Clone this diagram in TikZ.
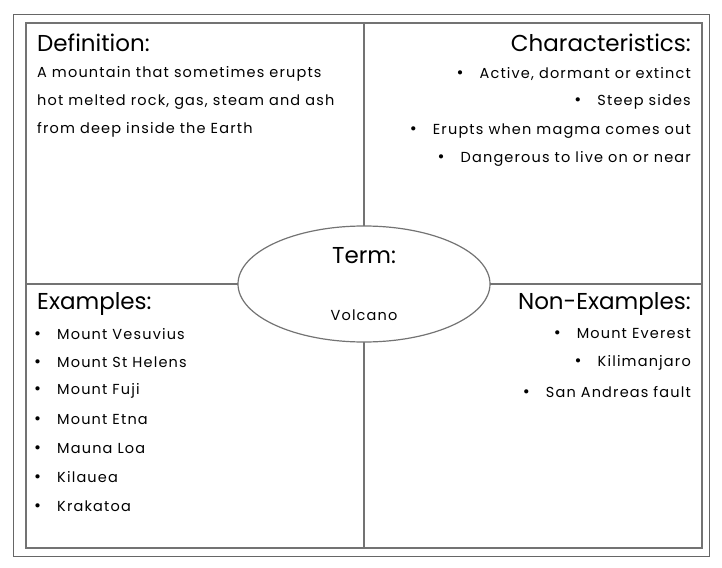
\documentclass[tikz,border=0pt]{standalone}
\usepackage{fontspec}
\setmainfont{Poppins}
\newfontfamily\bodyfont[LetterSpace=8]{Poppins}
\usetikzlibrary{positioning,shapes.geometric}
\tikzset{
  heading/.style={font=\fontsize{23}{26}\selectfont, inner sep=0pt},
  bodytext/.style={font=\bodyfont\fontsize{14.5}{17}\selectfont, inner sep=0pt},
}
\newcommand{\bul}{{\fontsize{17}{17}\selectfont\textbullet}\hspace{16pt}}
\begin{document}
\begin{tikzpicture}[x=1pt,y=-1pt]
    \useasboundingbox (0,0) rectangle (722,567);
    \draw[gray!80!black, line width=0.8pt] (13,14) rectangle (709,556);
    \draw[gray!90!black, line width=1.6pt] (26,23) rectangle (702,548);
    \draw[gray!90!black, line width=1.2pt] (364,23) -- (364,548);
    \draw[gray!90!black, line width=1.2pt] (26,284) -- (702,284);
    \node[draw=gray!90!black, line width=1.2pt, fill=white, ellipse, minimum width=252pt, minimum height=116pt, inner sep=0pt] (term) at (364,284) {};
    \node[heading] (termhead) at (364,256) {Term:};
    \node[bodytext] (termword) at (364,315) {Volcano};

    % definition
    \node[heading, anchor=west] (defhead) at (37,43) {Definition:};
    \node[bodytext, anchor=west] (def1) at (37,74) {A mountain that sometimes erupts};
    \node[bodytext, anchor=west] (def2) at (37,102) {hot melted rock, gas, steam and ash};
    \node[bodytext, anchor=west] (def3) at (37,130) {from deep inside the Earth};

    % characteristics
    \node[heading, anchor=east] (charhead) at (691,43) {Characteristics:};
    \node[bodytext, anchor=east] (char1) at (691,74) {\bul Active, dormant or extinct};
    \node[bodytext, anchor=east] (char2) at (691,102) {\bul Steep sides};
    \node[bodytext, anchor=east] (char3) at (691,131) {\bul Erupts when magma comes out};
    \node[bodytext, anchor=east] (char4) at (691,159) {\bul Dangerous to live on or near};

    % examples
    \node[heading, anchor=west] (exhead) at (37,304) {Examples:};
    \foreach \txt [count=\i] in {Mount Vesuvius, Mount St Helens, Mount Fuji, Mount Etna, Mauna Loa, Kilauea, Krakatoa}
        \node[bodytext, anchor=west] (ex\i) at (34,305+28.7*\i) {\bul \txt};

    % non-examples
    \node[heading, anchor=east] (nonhead) at (691,304) {Non-Examples:};
    \node[bodytext, anchor=east] (non1) at (691,334) {\bul Mount Everest};
    \node[bodytext, anchor=east] (non2) at (691,363) {\bul Kilimanjaro};
    \node[bodytext, anchor=east] (non3) at (691,392) {\bul San Andreas fault};
\end{tikzpicture}
\end{document}
